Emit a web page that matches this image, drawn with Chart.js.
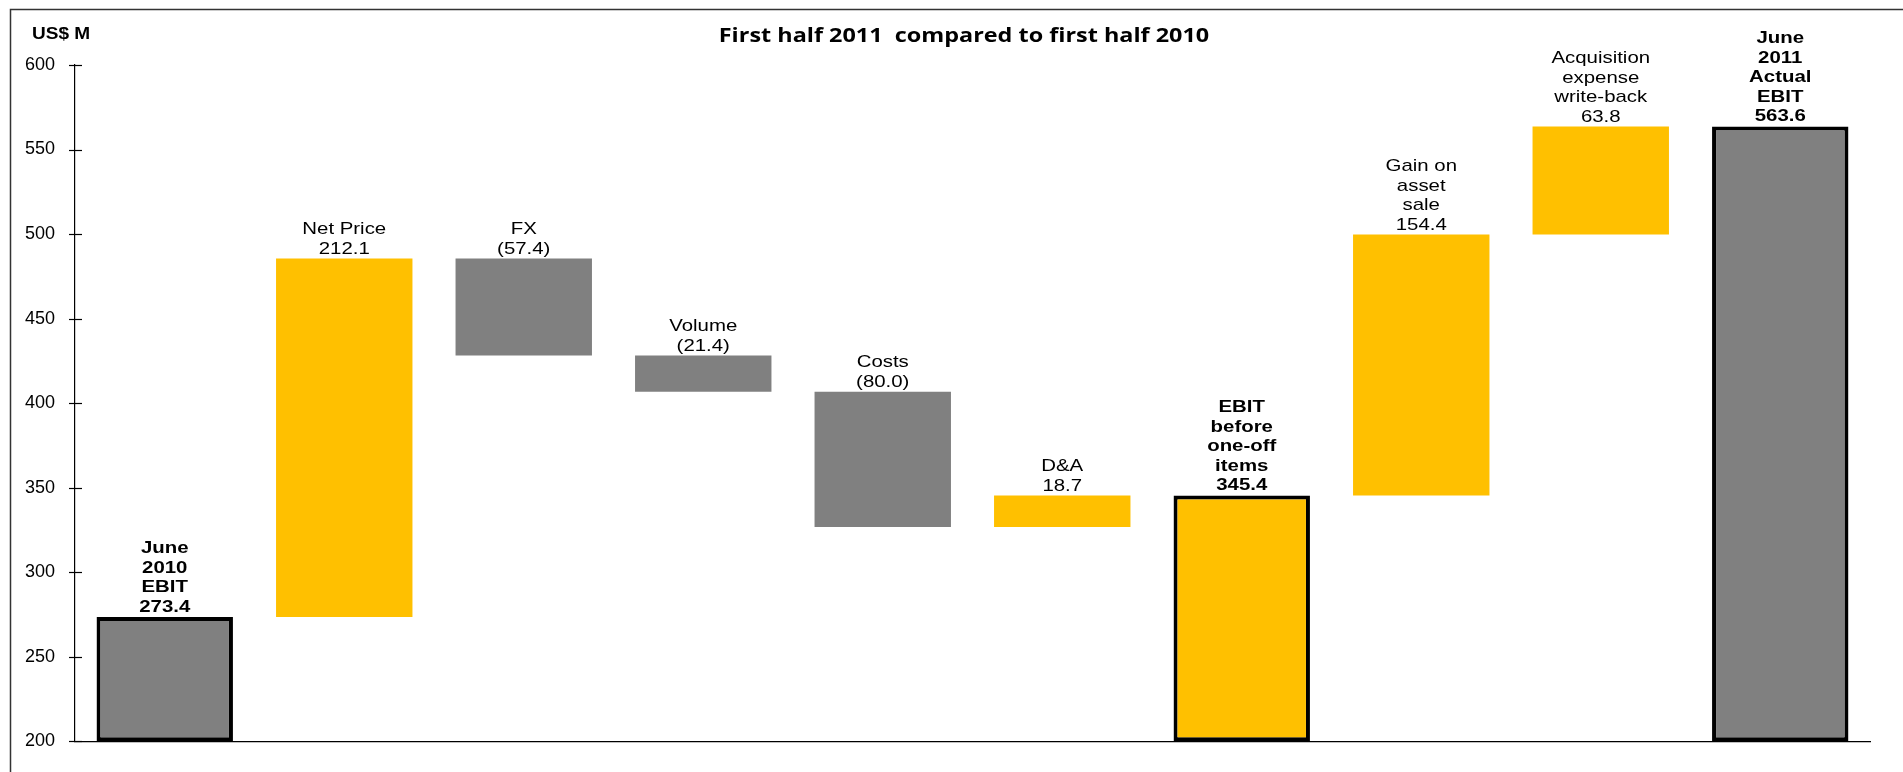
<!DOCTYPE html>
<html>
<head>
<meta charset="utf-8">
<title>First half 2011 compared to first half 2010</title>
<script src="https://cdn.jsdelivr.net/npm/chart.js@4"></script>
<style>
  html, body { margin: 0; padding: 0; background: #fff; }
  #wrap { width: 1903px; height: 772px; }
</style>
</head>
<body>
<div id="wrap"><canvas id="ebit-chart" width="1903" height="772"></canvas></div>
<script>
// Chart data
const categories = [
  "June 2010 EBIT", "Net Price", "FX", "Volume", "Costs", "D&A",
  "EBIT before one-off items", "Gain on asset sale",
  "Acquisition expense write-back", "June 2011 Actual EBIT"
];
const labelLines = [
  ["June", "2010", "EBIT"], ["Net Price"], ["FX"], ["Volume"], ["Costs"], ["D&A"],
  ["EBIT", "before", "one-off", "items"], ["Gain on", "asset", "sale"],
  ["Acquisition", "expense", "write-back"], ["June", "2011", "Actual", "EBIT"]
];
const changes = [273.4, 212.1, -57.4, -21.4, -80.0, 18.7, 345.4, 154.4, 63.8, 563.6];
const totalFlags = [true, false, false, false, false, false, true, false, false, true];
const yMin = 200;
const yMax = 600;
const yStep = 50;

// Colours
const GREY = "#808080";
const GOLD = "#FFC000";
const barColors = [GREY, GOLD, GREY, GREY, GREY, GOLD, GOLD, GOLD, GOLD, GREY];

// build the floating bars (waterfall)
let running = 0;
const floating = changes.map((v, i) => {
  if (totalFlags[i]) {
    running = v;
    return [yMin, v];
  }
  const start = running;
  running += v;
  return [start, running];
});

function valueLabel(v, i) {
  if (!totalFlags[i] && v < 0) return "(" + Math.abs(v).toFixed(1) + ")";
  return v.toFixed(1);
}

// text drawn a bit wider like the original export
function drawStretched(ctx, text, x, y, sx) {
  ctx.save();
  ctx.translate(x, y);
  ctx.scale(sx, 1);
  ctx.fillText(text, 0, 0);
  ctx.restore();
}

const decorPlugin = {
  id: "decor",
  beforeDraw(chart) {
    const ctx = chart.ctx;
    // outer frame (left + top)
    ctx.save();
    ctx.strokeStyle = "#333";
    ctx.lineWidth = 1.5;
    ctx.beginPath();
    ctx.moveTo(10.5, 772);
    ctx.lineTo(10.5, 9.5);
    ctx.lineTo(1903, 9.5);
    ctx.stroke();
    ctx.restore();
  },
  afterDraw(chart) {
    const ctx = chart.ctx;
    const yScale = chart.scales.y;
    const meta = chart.getDatasetMeta(0);

    // y ticks crossing the axis
    ctx.save();
    ctx.strokeStyle = "#000";
    ctx.lineWidth = 1.2;
    const ax = yScale.right;
    yScale.ticks.forEach((t) => {
      const py = Math.round(yScale.getPixelForValue(t.value)) + 0.5;
      ctx.beginPath();
      ctx.moveTo(ax - 6, py);
      ctx.lineTo(ax + 7, py);
      ctx.stroke();
    });
    ctx.restore();

    // title + unit
    ctx.save();
    ctx.fillStyle = "#000";
    ctx.textBaseline = "middle";
    ctx.textAlign = "center";
    ctx.font = "bold 20px 'Open Sans'";
    drawStretched(ctx, "First half 2011  compared to first half 2010", 964, 36, 1.17);
    ctx.textAlign = "left";
    ctx.font = "bold 17px 'Liberation Sans'";
    drawStretched(ctx, "US$ M", 32, 34, 1.12);
    ctx.restore();

    // bar labels
    ctx.save();
    ctx.fillStyle = "#000";
    ctx.textAlign = "center";
    ctx.textBaseline = "middle";
    meta.data.forEach((bar, i) => {
      const top = yScale.getPixelForValue(Math.max(floating[i][0], floating[i][1]));
      const lines = labelLines[i].concat([valueLabel(changes[i], i)]);
      ctx.font = (totalFlags[i] ? "bold " : "") + "17px 'Liberation Sans'";
      const lineH = 19.5;
      let y = top - (totalFlags[i] ? 10 : 9.5) - (lines.length - 1) * lineH;
      lines.forEach((ln) => {
        drawStretched(ctx, ln, bar.x, y, 1.2);
        y += lineH;
      });
    });
    ctx.restore();
  }
};

const ctx = document.getElementById("ebit-chart").getContext("2d");
const ebitChart = new Chart(ctx, {
  type: "bar",
  data: {
    labels: categories,
    datasets: [{
      data: floating,
      backgroundColor: barColors,
      borderColor: "#000",
      borderWidth: (c) => (totalFlags[c.dataIndex] ? 4 : 0),
      borderSkipped: false,
      barPercentage: 0.76,
      categoryPercentage: 1.0
    }]
  },
  options: {
    responsive: false,
    animation: false,
    devicePixelRatio: 1,
    layout: { padding: { top: 65, right: 33, bottom: 29, left: 0 } },
    plugins: {
      legend: { display: false },
      title: { display: false },
      tooltip: { enabled: false }
    },
    scales: {
      x: {
        ticks: { display: false },
        grid: { display: false, drawTicks: false },
        border: { display: true, color: "#000", width: 1.2 },
        afterFit(scale) { scale.height = 0; }
      },
      y: {
        min: yMin,
        max: yMax,
        ticks: {
          stepSize: yStep,
          color: "#000",
          padding: 20,
          font: { family: "'Liberation Sans'", size: 18 }
        },
        grid: { display: false, drawTicks: false },
        border: { display: true, color: "#000", width: 1.2 },
        afterFit(scale) { scale.width = 75; }
      }
    }
  },
  plugins: [decorPlugin]
});
</script>
</body>
</html>
